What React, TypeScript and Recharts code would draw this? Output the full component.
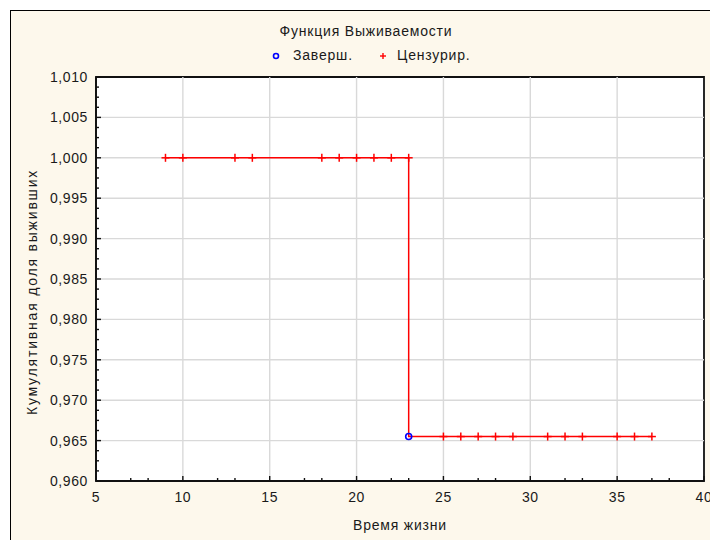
import React from 'react';
import { ComposedChart, Line, Scatter, XAxis, YAxis, ReferenceLine, ReferenceArea } from 'recharts';

// ---- data ----
const stepTimes = [9, 23, 23, 37];
const stepSurvival = [1.0, 1.0, 0.9655, 0.9655];
const censoredTimes = [9, 10, 13, 14, 18, 19, 20, 21, 22, 23, 25, 26, 27, 28, 29, 31, 32, 33, 35, 36, 37];
const censoredSurvival = [1, 1, 1, 1, 1, 1, 1, 1, 1, 1, 0.9655, 0.9655, 0.9655, 0.9655, 0.9655, 0.9655, 0.9655, 0.9655, 0.9655, 0.9655, 0.9655];
const completedTimes = [23];
const completedSurvival = [0.9655];

const xMajorTicks = [5, 10, 15, 20, 25, 30, 35, 40];
const xMinorTicks = [7, 8, 12, 13, 17, 18, 22, 23, 27, 28, 32, 33, 37, 38];
const yMajorTicks = [0.96, 0.965, 0.97, 0.975, 0.98, 0.985, 0.99, 0.995, 1.0, 1.005, 1.01];
const yMinorTicks = yMajorTicks.slice(0, -1).flatMap((v) => [v + 0.00125, v + 0.0025, v + 0.00375]);

const title = 'Функция Выживаемости';
const legendCompleted = 'Заверш.';
const legendCensored = 'Цензурир.';
const xLabel = 'Время жизни';
const yLabel = 'Кумулятивная доля выживших';

const stepData = stepTimes.map((t, i) => ({ t, s: stepSurvival[i] }));
const censoredData = censoredTimes.map((t, i) => ({ t, s: censoredSurvival[i] }));
const completedData = completedTimes.map((t, i) => ({ t, s: completedSurvival[i] }));

const FONT = '"Liberation Sans", Arial, sans-serif';
const TEXT = '#1a1a1a';
const AXIS = '#111';

const isMajor = (arr: number[], v: number) => arr.some((m) => Math.abs(m - v) < 1e-7);
const fmtY = (v: number) => v.toFixed(3).replace('.', ',');

const BottomTick = (props: any) => {
  const { x, y, payload } = props;
  const major = isMajor(xMajorTicks, payload.value);
  return (
    <g>
      <line x1={x} x2={x} y1={y} y2={y - (major ? 5 : 3)} stroke={AXIS} strokeWidth={1.4} />
      {major && (
        <text x={x} y={y + 21} textAnchor="middle" fontFamily={FONT} fontSize={14} letterSpacing={0.6} fill={TEXT}>
          {payload.value}
        </text>
      )}
    </g>
  );
};

const TopTick = (props: any) => {
  const { x, y, payload } = props;
  const major = isMajor(xMajorTicks, payload.value);
  return <line x1={x} x2={x} y1={y} y2={y + (major ? 5 : 3)} stroke={AXIS} strokeWidth={1.4} />;
};

const LeftTick = (props: any) => {
  const { x, y, payload } = props;
  const major = isMajor(yMajorTicks, payload.value);
  return (
    <g>
      <line x1={x} x2={x + (major ? 5 : 3)} y1={y} y2={y} stroke={AXIS} strokeWidth={1.4} />
      {major && (
        <text x={x - 8} y={y + 5} textAnchor="end" fontFamily={FONT} fontSize={14} letterSpacing={0.6} fill={TEXT}>
          {fmtY(payload.value)}
        </text>
      )}
    </g>
  );
};

const RightTick = (props: any) => {
  const { x, y, payload } = props;
  const major = isMajor(yMajorTicks, payload.value);
  return <line x1={x} x2={x - (major ? 5 : 3)} y1={y} y2={y} stroke={AXIS} strokeWidth={1.4} />;
};

const PlusShape = (props: any) => {
  const { cx, cy } = props;
  return (
    <g>
      <line x1={cx - 4} x2={cx + 4} y1={cy} y2={cy} stroke="#ff0000" strokeWidth={1.5} />
      <line x1={cx} x2={cx} y1={cy - 4} y2={cy + 4} stroke="#ff0000" strokeWidth={1.5} />
    </g>
  );
};

const CircleShape = (props: any) => {
  const { cx, cy } = props;
  return <circle cx={cx} cy={cy} r={3} fill="none" stroke="#0000ff" strokeWidth={1.6} />;
};

const xTicksAll = [...xMajorTicks, ...xMinorTicks].sort((a, b) => a - b);
const yTicksAll = [...yMajorTicks, ...yMinorTicks].sort((a, b) => a - b);

const axisLineStyle = { stroke: AXIS, strokeWidth: 1.8 };

export default function App() {
  return (
    <div style={{ position: 'absolute', left: 0, top: 0, width: 710, height: 540, overflow: 'hidden', background: '#fff' }}>
      <div
        style={{
          position: 'absolute',
          left: 10,
          top: 10,
          width: 740,
          height: 580,
          border: '1.5px solid #000',
          background: '#fdf8ec',
        }}
      />
      <div style={{ position: 'absolute', left: 0, top: 0 }}>
        <ComposedChart width={710} height={540} margin={{ top: 77, right: 6, bottom: 0, left: 0 }}>
          <ReferenceArea x1={5} x2={40} y1={0.96} y2={1.01} fill="#ffffff" fillOpacity={1} stroke="none" />
          {xMajorTicks.slice(1, -1).map((v) => (
            <ReferenceLine key={'gx' + v} x={v} stroke="#d9d9d9" strokeWidth={1.4} />
          ))}
          {yMajorTicks.slice(1, -1).map((v) => (
            <ReferenceLine key={'gy' + v} y={v} stroke="#d9d9d9" strokeWidth={1.4} />
          ))}
          <ReferenceArea x1={5} x2={40} y1={0.96} y2={1.01} fill="none" stroke="#111" strokeWidth={1.8} />
          <XAxis
            dataKey="t"
            type="number"
            domain={[5, 40]}
            ticks={xTicksAll}
            interval={0}
            allowDataOverflow
            height={59}
            tickSize={0}
            tickMargin={0}
            tickLine={false}
            stroke={AXIS}
            axisLine={axisLineStyle}
            tick={<BottomTick />}
          />
          <XAxis
            xAxisId="top"
            orientation="top"
            dataKey="t"
            type="number"
            domain={[5, 40]}
            ticks={xTicksAll}
            interval={0}
            allowDataOverflow
            height={0}
            tickSize={0}
            tickMargin={0}
            tickLine={false}
            stroke={AXIS}
            axisLine={axisLineStyle}
            tick={<TopTick />}
          />
          <YAxis
            dataKey="s"
            type="number"
            domain={[0.96, 1.01]}
            ticks={yTicksAll}
            interval={0}
            allowDataOverflow
            width={96}
            tickSize={0}
            tickMargin={0}
            tickLine={false}
            stroke={AXIS}
            axisLine={axisLineStyle}
            tick={<LeftTick />}
          />
          <YAxis
            yAxisId="right"
            orientation="right"
            dataKey="s"
            type="number"
            domain={[0.96, 1.01]}
            ticks={yTicksAll}
            interval={0}
            allowDataOverflow
            width={0}
            tickSize={0}
            tickMargin={0}
            tickLine={false}
            stroke={AXIS}
            axisLine={axisLineStyle}
            tick={<RightTick />}
          />
          <Line
            data={stepData}
            dataKey="s"
            type="linear"
            stroke="#ff0000"
            strokeWidth={1.5}
            dot={false}
            activeDot={false}
            isAnimationActive={false}
          />
          <Scatter data={censoredData} dataKey="s" shape={<PlusShape />} isAnimationActive={false} />
          <Scatter data={completedData} dataKey="s" shape={<CircleShape />} isAnimationActive={false} />
        </ComposedChart>
      </div>
      <div
        style={{
          position: 'absolute',
          left: 0,
          width: 732,
          top: 23,
          textAlign: 'center',
          fontFamily: FONT,
          fontSize: 14,
          letterSpacing: 0.8,
          color: TEXT,
          whiteSpace: 'nowrap',
        }}
      >
        {title}
      </div>
      <svg style={{ position: 'absolute', left: 270, top: 50 }} width={14} height={14}>
        <circle cx={6} cy={6} r={2.5} fill="none" stroke="#0000ff" strokeWidth={1.6} />
      </svg>
      <div style={{ position: 'absolute', left: 293, top: 47, fontFamily: FONT, fontSize: 14, letterSpacing: 0.8, color: TEXT, whiteSpace: 'nowrap' }}>
        {legendCompleted}
      </div>
      <svg style={{ position: 'absolute', left: 377, top: 50 }} width={14} height={14}>
        <line x1={3} x2={9} y1={6} y2={6} stroke="#ff0000" strokeWidth={1.4} />
        <line x1={6} x2={6} y1={3} y2={9} stroke="#ff0000" strokeWidth={1.4} />
      </svg>
      <div style={{ position: 'absolute', left: 397, top: 47, fontFamily: FONT, fontSize: 14, letterSpacing: 0.8, color: TEXT, whiteSpace: 'nowrap' }}>
        {legendCensored}
      </div>
      <div
        style={{
          position: 'absolute',
          left: 300,
          width: 200,
          top: 517,
          textAlign: 'center',
          fontFamily: FONT,
          fontSize: 14,
          letterSpacing: 0.8,
          color: TEXT,
          whiteSpace: 'nowrap',
        }}
      >
        {xLabel}
      </div>
      <div
        style={{
          position: 'absolute',
          left: 32,
          top: 293,
          width: 0,
          height: 0,
        }}
      >
        <div
          style={{
            position: 'absolute',
            left: -150,
            top: -9,
            width: 300,
            textAlign: 'center',
            transform: 'rotate(-90deg)',
            fontFamily: FONT,
            fontSize: 14,
            color: TEXT,
            whiteSpace: 'nowrap',
            letterSpacing: 1.8,
          }}
        >
          {yLabel}
        </div>
      </div>
    </div>
  );
}
